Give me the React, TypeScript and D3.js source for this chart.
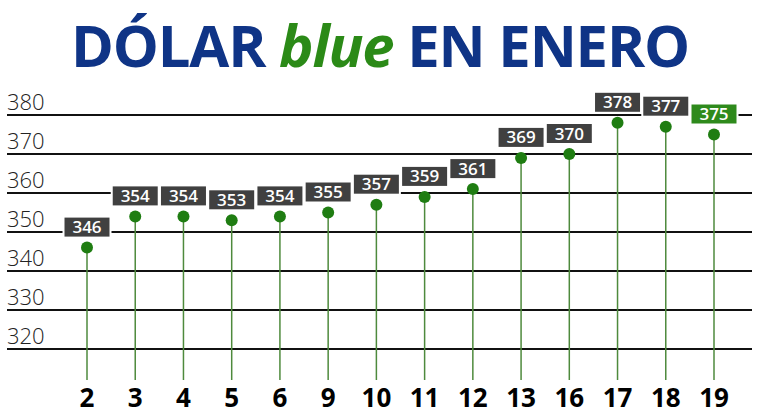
import React from "react";
import * as d3 from "d3";

const days = ["2", "3", "4", "5", "6", "9", "10", "11", "12", "13", "16", "17", "18", "19"];
const values = [346, 354, 354, 353, 354, 355, 357, 359, 361, 369, 370, 378, 377, 375];
const yTicks = [320, 330, 340, 350, 360, 370, 380];
const highlightIndex = 13;

const W = 760;
const H = 420;

export default function App() {
  const x = d3.scalePoint<string>().domain(days).range([87, 714]);
  const y = d3.scaleLinear().domain([320, 380]).range([349, 115]);
  const boxW = 47;
  const boxH = 21;
  const stemBottom = 380;

  return (
    <div style={{ position: "absolute", left: 0, top: 0 }}>
      <svg width={W} height={H} viewBox={`0 0 ${W} ${H}`} style={{ display: "block", background: "#fff" }}>
        <text
          x={380}
          y={67}
          textAnchor="middle"
          fontFamily="'Open Sans', sans-serif"
          fontWeight={700}
          fontSize={58}
          letterSpacing={-1.2}
          fill="#0f3486"
        >
          DÓLAR <tspan fill="#2b8a17" fontStyle="italic">blue</tspan> EN ENERO
        </text>

        {yTicks.map((t) => (
          <g key={t}>
            <line x1={7} x2={752} y1={y(t)} y2={y(t)} stroke="#111" strokeWidth={2} />
            <text
              x={7}
              y={y(t) - 5}
              fontFamily="'Open Sans', sans-serif"
              fontWeight={300}
              fontSize={22}
              fill="#222"
            >
              {t}
            </text>
          </g>
        ))}

        {days.map((d, i) => {
          const cx = x(d)!;
          const cy = y(values[i]);
          const hl = i === highlightIndex;
          return (
            <g key={d}>
              <line x1={cx} x2={cx} y1={cy} y2={stemBottom} stroke="#4e8a3c" strokeWidth={1.5} />
              <circle cx={cx} cy={cy} r={6} fill="#1f7d12" />
              <rect
                x={cx - boxW / 2}
                y={cy - 10 - boxH}
                width={boxW}
                height={boxH}
                fill={hl ? "#2e8a1c" : "#404040"}
                stroke="#fff"
                strokeWidth={2}
              />
              <text
                x={cx}
                y={cy - 10 - boxH / 2 + 6}
                textAnchor="middle"
                fontFamily="'Open Sans', sans-serif"
                fontWeight={600}
                fontSize={17}
                fill="#fff"
              >
                {values[i]}
              </text>
              <text
                x={cx}
                y={407}
                textAnchor="middle"
                fontFamily="'Open Sans', sans-serif"
                fontWeight={700}
                fontSize={26}
                fill="#000"
              >
                {d}
              </text>
            </g>
          );
        })}
      </svg>
    </div>
  );
}
